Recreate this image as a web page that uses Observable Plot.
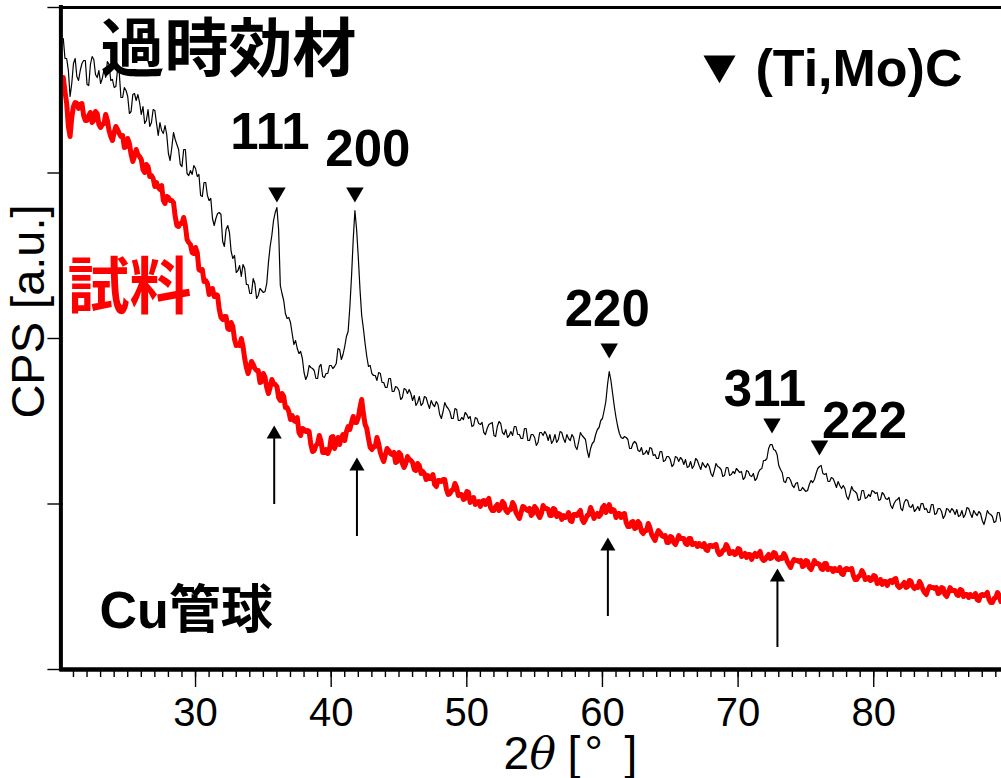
<!DOCTYPE html>
<html>
<head>
<meta charset="utf-8">
<script src="https://cdn.jsdelivr.net/npm/d3@7"></script>
<script src="https://cdn.jsdelivr.net/npm/@observablehq/plot@0.6"></script>
<style>
  html, body { margin: 0; padding: 0; background: #fff; overflow: hidden; }
  svg { display: block; }
</style>
</head>
<body>
<div id="chart"></div>
<script>
// XRD scans (Cu tube), 2θ sampled every 0.125° from 20.25°
const angleStart = 20.25;
const angleStep = 0.125;

// Over-aged material (black trace), counts in arbitrary units; one row per degree
const overagedCounts = [
  631, 611, 611, 599, 573, 586, 606, 611,
  593, 589, 599, 606, 609, 609, 585, 584,
  605, 613, 610, 595, 592, 599, 586, 591,
  600, 592, 608, 605, 589, 590, 582, 583,
  600, 597, 572, 572, 582, 579, 573, 556,
  558, 575, 576, 569, 575, 567, 555, 563,
  546, 549, 560, 543, 547, 560, 559, 546,
  534, 547, 539, 536, 544, 535, 516, 509,
  522, 537, 530, 525, 520, 505, 503, 520,
  520, 496, 494, 499, 495, 504, 501, 493,
  495, 474, 473, 487, 487, 474, 469, 471,
  451, 444, 451, 456, 457, 455, 428, 423,
  440, 444, 437, 418, 411, 414, 397, 399,
  404, 393, 405, 401, 385, 385, 376, 376,
  391, 386, 371, 374, 381, 379, 377, 378,
  386, 407, 423, 434, 449, 457, 462, 440,
  384, 376, 369, 356, 351, 352, 347, 336,
  325, 329, 321, 316, 318, 311, 297, 290,
  294, 304, 302, 301, 299, 291, 291, 303,
  305, 293, 292, 296, 296, 304, 304, 301,
  303, 306, 321, 320, 310, 315, 323, 333,
  338, 362, 393, 430, 459, 440, 412, 380,
  354, 341, 326, 313, 303, 304, 296, 294,
  294, 289, 297, 296, 287, 287, 282, 282,
  291, 291, 278, 278, 283, 282, 279, 270,
  272, 281, 280, 276, 280, 276, 269, 274,
  264, 267, 273, 264, 266, 273, 272, 266,
  261, 269, 265, 263, 268, 265, 255, 251,
  258, 267, 263, 261, 258, 251, 251, 261,
  260, 249, 249, 252, 250, 257, 255, 251,
  253, 243, 244, 252, 251, 246, 245, 247,
  237, 235, 241, 245, 246, 247, 234, 233,
  243, 248, 246, 237, 235, 240, 232, 234,
  238, 234, 243, 243, 235, 235, 231, 231,
  241, 241, 229, 229, 235, 235, 232, 224,
  227, 237, 237, 234, 238, 235, 229, 235,
  226, 229, 235, 227, 230, 238, 237, 231,
  227, 235, 231, 229, 235, 232, 223, 220,
  228, 237, 234, 232, 230, 219, 212, 221,
  226, 228, 235, 240, 242, 249, 251, 259,
  268, 285, 298, 289, 276, 263, 252, 243,
  236, 232, 231, 233, 232, 230, 221, 221,
  226, 228, 226, 219, 218, 222, 215, 216,
  219, 215, 222, 221, 214, 215, 211, 211,
  218, 218, 208, 209, 213, 213, 210, 203,
  205, 213, 212, 208, 212, 210, 205, 210,
  202, 203, 208, 201, 204, 211, 209, 204,
  200, 207, 204, 202, 206, 203, 196, 193,
  199, 206, 203, 202, 200, 193, 194, 202,
  202, 194, 195, 198, 196, 201, 199, 197,
  198, 190, 192, 199, 198, 194, 193, 196,
  189, 191, 197, 200, 201, 209, 209, 211,
  221, 225, 225, 220, 219, 215, 204, 200,
  197, 188, 187, 192, 192, 189, 184, 182,
  186, 187, 179, 179, 182, 180, 178, 179,
  185, 189, 187, 190, 196, 201, 203, 204,
  196, 195, 196, 188, 188, 192, 191, 187,
  182, 188, 184, 181, 184, 181, 173, 170,
  176, 183, 179, 178, 176, 169, 170, 179,
  179, 171, 172, 175, 173, 179, 178, 176,
  177, 169, 170, 177, 175, 171, 170, 172,
  164, 161, 166, 169, 170, 172, 161, 159,
  167, 170, 169, 163, 162, 165, 158, 160,
  163, 159, 166, 166, 160, 161, 157, 157,
  165, 165, 155, 156, 161, 161, 158, 151,
  154, 161, 160, 157, 161, 159, 155, 160,
  153, 154, 159, 152, 155, 162, 161, 156,
  152, 159, 156, 154, 158, 156, 149, 145,
  151, 159, 156, 155, 153, 147, 148, 157,
  157, 148, 148
];

// Specimen (red trace), counts in arbitrary units; one row per degree
const specimenCounts = [
  592, 578, 566, 543, 533, 552, 563, 567,
  566, 561, 565, 566, 554, 549, 549, 554,
  557, 547, 549, 558, 556, 545, 542, 545,
  546, 555, 549, 539, 533, 529, 537, 543,
  540, 536, 533, 534, 522, 523, 531, 526,
  515, 508, 513, 520, 515, 513, 510, 500,
  497, 505, 503, 493, 494, 491, 483, 487,
  482, 480, 484, 469, 466, 473, 472, 469,
  469, 467, 453, 444, 443, 446, 446, 452,
  444, 430, 427, 425, 417, 416, 422, 417,
  400, 399, 400, 388, 389, 386, 375, 380,
  381, 373, 375, 374, 360, 352, 350, 353,
  353, 341, 340, 347, 343, 330, 324, 325,
  324, 331, 323, 311, 302, 296, 302, 308,
  305, 301, 299, 299, 287, 288, 296, 292,
  282, 276, 282, 290, 286, 285, 283, 272,
  269, 276, 273, 262, 262, 258, 250, 254,
  249, 248, 252, 237, 234, 241, 240, 238,
  239, 238, 225, 218, 219, 224, 226, 234,
  228, 217, 217, 220, 216, 220, 232, 233,
  221, 226, 232, 225, 232, 235, 229, 238,
  243, 240, 247, 253, 247, 247, 252, 262,
  270, 256, 245, 241, 231, 222, 220, 223,
  223, 232, 226, 217, 212, 208, 215, 221,
  219, 216, 215, 217, 207, 208, 217, 215,
  206, 202, 206, 213, 210, 209, 207, 200,
  199, 206, 204, 196, 198, 196, 190, 194,
  191, 191, 195, 185, 183, 189, 189, 188,
  190, 190, 180, 175, 176, 179, 180, 186,
  182, 174, 175, 175, 170, 171, 178, 177,
  167, 169, 172, 165, 167, 168, 163, 168,
  169, 165, 169, 171, 162, 159, 159, 163,
  165, 159, 161, 168, 166, 159, 157, 160,
  160, 167, 164, 157, 154, 151, 157, 163,
  162, 160, 159, 161, 154, 156, 163, 161,
  155, 152, 156, 164, 161, 161, 160, 154,
  154, 161, 160, 153, 156, 155, 150, 154,
  152, 153, 157, 149, 148, 155, 155, 154,
  157, 159, 150, 147, 150, 154, 155, 162,
  158, 151, 154, 156, 153, 155, 162, 164,
  157, 160, 165, 158, 160, 159, 152, 156,
  156, 152, 155, 156, 147, 143, 143, 147,
  148, 141, 142, 148, 146, 138, 136, 139,
  139, 146, 142, 135, 132, 129, 135, 139,
  137, 134, 133, 134, 127, 127, 133, 132,
  127, 125, 129, 134, 131, 131, 131, 126,
  125, 131, 131, 125, 126, 126, 123, 126,
  124, 123, 126, 120, 119, 124, 124, 123,
  124, 125, 118, 115, 116, 119, 120, 125,
  122, 116, 117, 118, 115, 116, 121, 120,
  113, 114, 116, 112, 115, 115, 110, 114,
  116, 113, 116, 118, 111, 109, 110, 113,
  115, 111, 112, 117, 116, 111, 110, 112,
  111, 116, 113, 108, 105, 102, 107, 110,
  109, 109, 108, 109, 103, 104, 109, 108,
  102, 100, 104, 109, 106, 106, 105, 101,
  100, 106, 106, 100, 101, 101,  98, 101,
   99,  99, 102,  96,  95, 100, 101, 100,
  100, 101,  94,  90,  90,  93,  94,  99,
   96,  90,  91,  92,  89,  90,  94,  93,
   86,  87,  90,  85,  88,  88,  84,  88,
   89,  87,  90,  91,  84,  82,  83,  85,
   87,  82,  83,  89,  88,  83,  81,  83,
   82,  88,  85,  80,  77,  75,  80,  83,
   82,  82,  81,  82,  76,  77,  82,  81,
   75,  73,  77,  82,  79,  79,  79,  75,
   74,  80,  79,  73,  75,  75,  72,  75,
   73,  73,  76,  70,  69,  74,  75,  74,
   75,  77,  70,  67,  67,  71,  72,  77,
   74,  68,  69
];

// (Ti,Mo)C reflections marked on the black trace
const reflectionLabels = ["111", "200", "220", "311", "222"];
const reflectionAngles = [36.0, 41.75, 60.5, 72.5, 76.0];

// weak features pointed out on the red trace
const arrowAngles = [35.8, 41.9, 60.4, 72.9];

// axis ticks
const xMajorTicks = [30, 40, 50, 60, 70, 80];
const xMinorTicks = d3.range(21, 90);
const yTicks = [0, 165.5, 331, 496.5, 662];

// ---- layout ----
const W = 1001, H = 778;
const M = {top: 7, right: 0, bottom: 109, left: 59.4};
const sans = "'Liberation Sans', Arial, 'Noto Sans CJK JP', sans-serif";
const serif = "'DejaVu Serif', 'Liberation Serif', serif";

// triangle marker lift above each peak, label offset from the marker (px)
const hklLayout = [
  {lift: 15, dx: -7, dy: -44},
  {lift: 18, dx: 13, dy: -27},
  {lift: 23, dx: -2, dy: -23},
  {lift: 21, dx: -7, dy: -18},
  {lift: 21, dx: 45, dy: -8}
];
// arrow tips (count units) and shaft length
const arrowTips = [244, 212, 132, 101];
const arrowLength = 79;

const countAt = (series, angle) => series[Math.round((angle - angleStart) / angleStep)];

const overaged = overagedCounts.map((c, i) => ({angle: angleStart + angleStep * i, counts: c}));
const specimen = specimenCounts.map((c, i) => ({angle: angleStart + angleStep * i, counts: c}));

const peaks = reflectionLabels.map((hkl, i) => ({
  hkl,
  angle: reflectionAngles[i],
  markY: countAt(overagedCounts, reflectionAngles[i]) + hklLayout[i].lift
}));
const arrows = arrowAngles.map((a, i) => ({angle: a, tip: arrowTips[i]}));

// text placed at a fixed spot of the figure (px, baseline)
function figText(str, px, py, opts = {}) {
  return Plot.text([str], {
    text: d => d,
    frameAnchor: "top-left",
    dx: px - M.left,
    dy: py - M.top,
    lineAnchor: "bottom",
    textAnchor: "start",
    fill: "black",
    ...opts
  });
}

const chart = Plot.plot({
  width: W,
  height: H,
  marginTop: M.top,
  marginRight: M.right,
  marginBottom: M.bottom,
  marginLeft: M.left,
  style: {fontFamily: sans, background: "#fff", color: "black"},
  x: {domain: [20, 89.42], label: null},
  y: {domain: [0, 662], label: null},
  marks: [
    // axes ticks
    Plot.axisY(yTicks, {tickSize: 12, tickFormat: () => "", label: null, strokeWidth: 1.4}),
    Plot.axisX(xMinorTicks, {tickSize: 8, tickFormat: () => "", label: null, strokeWidth: 1.4}),
    Plot.axisX(xMajorTicks, {tickSize: 18, tickPadding: 10, fontSize: 40, label: null, strokeWidth: 1.4}),

    // traces
    Plot.line(specimen, {x: "angle", y: "counts", stroke: "#ff0000", strokeWidth: 5, strokeLinejoin: "round", clip: true}),
    Plot.line(overaged, {x: "angle", y: "counts", stroke: "black", strokeWidth: 1.2, clip: true}),

    // frame (left, bottom, top)
    Plot.ruleX([20], {strokeWidth: 4, dx: 1, strokeLinecap: "square"}),
    Plot.ruleY([0], {strokeWidth: 4.5}),
    Plot.ruleY([662], {strokeWidth: 3}),

    // reflection markers and labels
    Plot.dot(peaks, {x: "angle", y: "markY", symbol: "triangle", r: 6.5, rotate: 180, fill: "black"}),
    ...peaks.map((p, i) => Plot.text([p], {
      x: "angle", y: "markY", text: "hkl",
      dx: hklLayout[i].dx, dy: hklLayout[i].dy,
      lineAnchor: "bottom", textAnchor: "middle",
      fontSize: 51, fontWeight: "bold", fill: "black"
    })),

    // arrows on the red trace
    Plot.ruleX(arrows, {x: "angle", y1: d => d.tip - arrowLength, y2: d => d.tip - 10, strokeWidth: 2}),
    Plot.dot(arrows, {x: "angle", y: d => d.tip - 8.7, symbol: "triangle", r: 5.6, fill: "black"}),

    // legend
    Plot.dot([0], {frameAnchor: "top-left", dx: 719 - M.left, dy: 64.2 - M.top, symbol: "triangle", r: 11.9, rotate: 180, fill: "black"}),
    figText("(Ti,Mo)C", 755, 85, {fontSize: 52, fontWeight: "bold"}),

    // annotations
    figText("過時効材", 100, 70, {fontSize: 64, fontWeight: "bold"}),
    figText("試料", 67, 308, {fontSize: 62, fontWeight: "bold", fill: "#ff0000"}),
    figText("Cu管球", 99, 627, {fontSize: 52, fontWeight: "bold"}),

    // axis titles
    Plot.text(["CPS [a.u.]"], {
      text: d => d, frameAnchor: "top-left", dx: 28 - M.left, dy: 311 - M.top,
      rotate: -90, textAnchor: "middle", lineAnchor: "middle", fontSize: 47, fill: "black"
    }),
    figText("2", 503, 768, {fontSize: 46}),
    figText("θ", 529, 768, {fontSize: 44, fontFamily: serif, fontStyle: "italic"}),
    figText("[", 567, 768, {fontSize: 46}),
    figText("°", 584, 768, {fontSize: 46}),
    figText("]", 624, 768, {fontSize: 46})
  ]
});

document.getElementById("chart").appendChild(chart);
</script>
</body>
</html>
